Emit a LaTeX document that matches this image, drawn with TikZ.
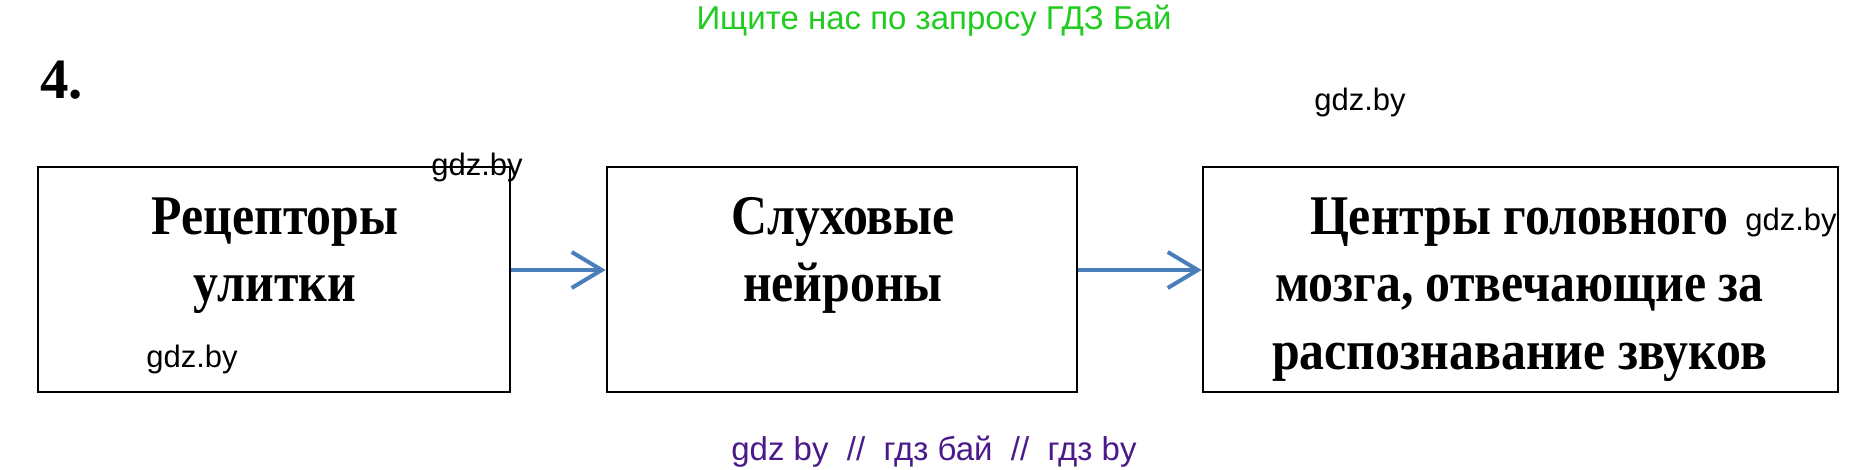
\documentclass[tikz,border=0pt]{standalone}
\usepackage{fontspec}
\setmainfont{Liberation Serif}
\setsansfont{Liberation Sans}
\newfontfamily\boxfont{Liberation Serif}[FakeStretch=0.89]
\usetikzlibrary{arrows.meta}
\definecolor{arrowblue}{HTML}{4A7EBB}
\definecolor{titlegreen}{HTML}{1FCC1F}
\definecolor{footpurple}{HTML}{4B1A8A}
\tikzset{
  box/.style={draw=black, line width=2.8pt, rectangle, minimum height=225pt, inner sep=0pt},
  boxtext/.style={anchor=base, inner sep=0pt, font=\boxfont\fontsize{56}{67}\selectfont\bfseries},
  flow/.style={draw=arrowblue, line width=4pt, -{Straight Barb[length=30pt,width=36pt,line width=4pt]}},
  wm/.style={anchor=base, inner sep=0pt, font=\fontsize{31}{34}\sffamily},
}
\begin{document}
\begin{tikzpicture}[x=1pt, y=-1pt]
\useasboundingbox (0,0) rectangle (1869,470);
\node[anchor=base, inner sep=0pt, text=titlegreen, font=\fontsize{33}{36}\sffamily] (title) at (934,30) {Ищите нас по запросу ГДЗ Бай};
\node[anchor=base west, inner sep=0pt, font=\fontsize{57}{60}\selectfont\bfseries] (num) at (40,99) {4.};

\node[box, minimum width=472pt] (b1) at (274,279.5) {};
\node[box, minimum width=470pt] (b2) at (842,279.5) {};
\node[box, minimum width=635pt] (b3) at (1520.5,279.5) {};

\node[boxtext] (t1a) at (275,235) {Рецепторы};
\node[boxtext] (t1b) at (275,302) {улитки};
\node[boxtext] (t2a) at (843,235) {Слуховые};
\node[boxtext] (t2b) at (843,302) {нейроны};
\node[boxtext, anchor=base west] (t3a) at (1310,235) {Центры головного};
\node[boxtext, anchor=base west] (t3b) at (1275,302) {мозга, отвечающие за};
\node[boxtext, anchor=base west] (t3c) at (1272,369) {распознавание звуков};

\draw[flow] ([yshift=9.5pt]b1.east) -- ([yshift=9.5pt]b2.west);
\draw[flow] ([yshift=9.5pt]b2.east) -- ([yshift=9.5pt]b3.west);

\node[wm] (w1) at (1360,111) {gdz.by};
\node[wm] (w2) at (477,176) {gdz.by};
\node[wm] (w3) at (192,367) {gdz.by};
\node[wm] (w4) at (1791,231) {gdz.by};

\node[anchor=base, inner sep=0pt, text=footpurple, font=\fontsize{33}{36}\sffamily] (foot) at (934,460) {gdz by\ \ //\ \ гдз бай\ \ //\ \ гдз by};
\end{tikzpicture}
\end{document}
